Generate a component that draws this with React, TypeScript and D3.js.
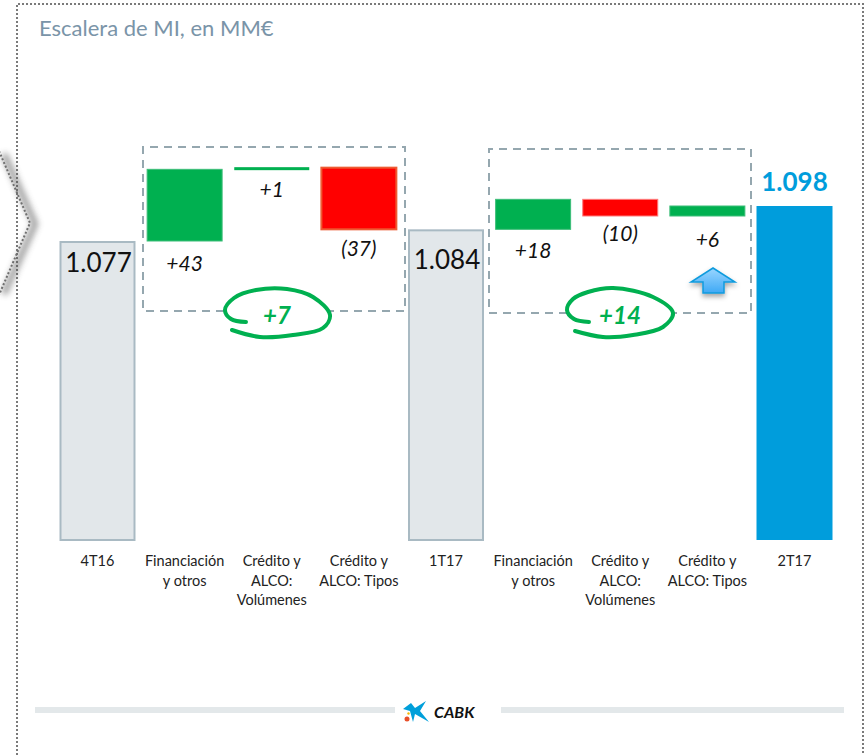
import React from 'react';
import * as d3 from 'd3';

const WIDTH = 865;
const HEIGHT = 755;
const FONT = 'Lato, sans-serif';

const categories = [
  ['4T16'],
  ['Financiación', 'y otros'],
  ['Crédito y', 'ALCO:', 'Volúmenes'],
  ['Crédito y', 'ALCO: Tipos'],
  ['1T17'],
  ['Financiación', 'y otros'],
  ['Crédito y', 'ALCO:', 'Volúmenes'],
  ['Crédito y', 'ALCO: Tipos'],
  ['2T17'],
];
const values = [1077, 43, 1, -37, 1084, 18, -10, 6, 1098];
const isTotal = [true, false, false, false, true, false, false, false, true];
const totalLabels = ['1.077', '1.084', '1.098'];
const stepLabels = ['+43', '+1', '(37)', '+18', '(10)', '+6'];
const groupTotals = ['+7', '+14'];

const GREEN = '#00B050';
const RED = '#FF0000';
const BLUE = '#009DDC';
const GREY_BAR = '#E2E7EA';
const GREY_EDGE = '#A9BAC3';
const DASH = '#95A7AF';

const x = d3
  .scaleBand<number>()
  .domain(d3.range(values.length))
  .range([59.5, 832.5])
  .paddingInner(0.1277);
const y = d3.scaleLinear().domain([897.6, 1098]).range([540, 206]);

// running level for the steps of the staircase
let level = 0;
const bars = values.map((v, i) => {
  if (isTotal[i]) {
    level = v;
    return { i, v, from: 0, to: v };
  }
  const from = level;
  level += v;
  return { i, v, from, to: level };
});

// small vertical tweaks for the labels, the original slide is not regular
const labelNudge = [2, 0, -1, 1, -3, 3];
const totalNudge = [31, 40];

const curve = d3.line().curve(d3.curveCatmullRom.alpha(0.5));

const scribbles: [number, number][][] = [
  [[246, 322], [231, 319], [225, 310], [234, 298], [256, 290], [287, 289], [313, 297], [330, 315], [323, 328], [293, 335], [260, 337], [232, 330]],
  [[589, 322], [574, 319], [567, 310], [573, 299], [588, 292], [613, 288], [653, 297], [673, 313], [663, 327], [633, 335], [603, 337], [575, 331]],
];
const scribbleCentres = [[277, 316], [620, 316]];

export default function App() {
  let totalIdx = 0;
  let stepIdx = 0;
  return (
    <svg
      width={WIDTH}
      height={HEIGHT}
      style={{ position: 'absolute', left: 0, top: 0, background: '#fff' }}
      fontFamily={FONT}
    >
      <defs>
        <filter id="chevShadow" x="-50%" y="-20%" width="200%" height="140%">
          <feGaussianBlur stdDeviation="3" />
        </filter>
        <filter id="arrowShadow" x="-30%" y="-30%" width="160%" height="180%">
          <feDropShadow dx="0" dy="3" stdDeviation="2.5" floodColor="#000" floodOpacity="0.35" />
        </filter>
        <linearGradient id="arrowFill" x1="0" y1="0" x2="0" y2="1">
          <stop offset="0" stopColor="#9AD6FF" />
          <stop offset="1" stopColor="#3FA9F5" />
        </linearGradient>
      </defs>

      {/* panel frame, bottom edge falls outside of the crop */}
      <path d="M17,755V4H863V755" fill="none" stroke="#7A7A7A" strokeWidth={2} strokeDasharray="2 2" />

      {/* chevron of the previous panel */}
      <path d="M0,153L31,223L0,293" fill="none" stroke="#555" strokeWidth={6} opacity={0.6} filter="url(#chevShadow)" transform="translate(4,1)" />
      <path d="M-1,151L30,223L-1,295" fill="none" stroke="#6F6F6F" strokeWidth={2} strokeDasharray="2 2" />

      <text x={39} y={36} fontSize={22} fill="#7A94A8">Escalera de MI, en MM€</text>

      {/* dashed group boxes */}
      <path d="M224,311H143V147H405V311H330" fill="none" stroke={DASH} strokeWidth={2} strokeDasharray="8 6" />
      <path d="M567,313H489V149H751V313H674" fill="none" stroke={DASH} strokeWidth={2} strokeDasharray="8 6" />

      {bars.map(b => {
        const bx = x(b.i)!;
        const bw = x.bandwidth();
        const top = y(Math.max(b.from, b.to));
        const bottom = b.from === 0 ? y.range()[0] : y(Math.min(b.from, b.to));
        const cx = bx + bw / 2;
        if (isTotal[b.i]) {
          const last = b.i === values.length - 1;
          const offset = totalNudge[totalIdx];
          const label = totalLabels[totalIdx++];
          return (
            <g key={b.i}>
              <rect
                x={last ? bx : bx + 1}
                y={last ? top : top + 1}
                width={last ? bw : bw - 2}
                height={last ? bottom - top : bottom - top - 1}
                fill={last ? BLUE : GREY_BAR}
                stroke={last ? 'none' : GREY_EDGE}
                strokeWidth={2}
              />
              <text
                x={last ? cx : cx + 1}
                y={last ? top - 15 : top + offset}
                textAnchor="middle"
                fontSize={26}
                fontWeight={last ? 700 : 400}
                fill={last ? BLUE : '#111'}
              >
                {label}
              </text>
            </g>
          );
        }
        const idx = stepIdx++;
        const up = b.v > 0;
        const h = bottom - top;
        const big = h > 30;
        return (
          <g key={b.i}>
            <rect
              x={bx + 0.5}
              y={h < 3 ? top - 0.5 : top}
              width={bw - 1}
              height={Math.max(h, 3)}
              fill={up ? GREEN : RED}
              stroke={up ? '#3DBE78' : big ? '#EE5B33' : '#FF7A7A'}
              strokeWidth={!up && big ? 2 : h < 3 ? 0 : 1}
            />
            <text
              x={cx}
              y={bottom + 28 + labelNudge[idx]}
              textAnchor="middle"
              fontSize={21}
              fontStyle="italic"
              fill="#111"
            >
              {stepLabels[idx]}
            </text>
          </g>
        );
      })}

      {categories.map((lines, i) => (
        <text key={i} textAnchor="middle" fontSize={14.5} fill="#222">
          {lines.map((line, j) => (
            <tspan key={j} x={x(i)! + x.bandwidth() / 2} y={566 + j * 19.5}>{line}</tspan>
          ))}
        </text>
      ))}

      {/* hand drawn rings with the group sum */}
      {scribbles.map((pts, i) => (
        <g key={i}>
          <path d={curve(pts) || ''} fill="none" stroke={GREEN} strokeWidth={4} strokeLinecap="round" />
          <text
            x={scribbleCentres[i][0]}
            y={scribbleCentres[i][1] + 8}
            textAnchor="middle"
            fontSize={24}
            fontWeight={700}
            fontStyle="italic"
            fill={GREEN}
          >
            {groupTotals[i]}
          </text>
        </g>
      ))}

      {/* up arrow under +6 */}
      <path
        d="M713,268L735,282H724V293H703V282H691Z"
        fill="url(#arrowFill)"
        stroke="#109BDD"
        strokeWidth={1.5}
        filter="url(#arrowShadow)"
      />

      {/* footer */}
      <rect x={35} y={707} width={360} height={6} fill="#E3E8EA" />
      <rect x={501} y={707} width={343} height={6} fill="#E3E8EA" />
      <path d="M403,709L411,703L415,708L426,701L420,711L429,722L415,714L413,722L410,711Z" fill="#009FDA" />
      <circle cx={407} cy={719} r={2.5} fill="#E8502A" />
      <circle cx={408.5} cy={713.5} r={1.2} fill="#F5B800" />
      <text x={434} y={718} fontSize={16} fontWeight={700} fontStyle="italic" fill="#111">CABK</text>
    </svg>
  );
}
